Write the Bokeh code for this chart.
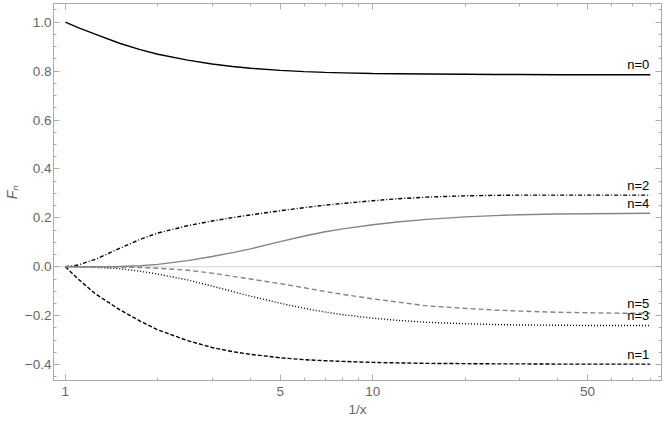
import numpy as np
from bokeh.plotting import figure
from bokeh.models import (Range1d, FixedTicker, LogAxis, LinearAxis,
                          CustomJSTickFormatter, Span)
from bokeh.embed import file_html
from bokeh.resources import INLINE
from bokeh.core.properties import value

# ---- data ----
inv_x = [1, 1.1, 1.25, 1.5, 1.75, 2, 2.5, 3, 3.5, 4, 5, 6, 7, 8, 10, 12, 15, 20, 25, 30, 40, 50, 65, 80]
F0 = [1.000, 0.978, 0.951, 0.914, 0.888, 0.869, 0.845, 0.829, 0.819, 0.812, 0.803, 0.798, 0.795, 0.793,
      0.790, 0.789, 0.788, 0.787, 0.786, 0.786, 0.785, 0.785, 0.785, 0.785]
F1 = [0.000, -0.050, -0.110, -0.175, -0.222, -0.258, -0.302, -0.330, -0.347, -0.358, -0.372, -0.380, -0.384,
      -0.387, -0.391, -0.393, -0.395, -0.396, -0.397, -0.397, -0.398, -0.398, -0.398, -0.398]
F2 = [0.000, 0.007, 0.030, 0.075, 0.112, 0.138, 0.168, 0.187, 0.201, 0.212, 0.229, 0.242, 0.252, 0.259,
      0.270, 0.278, 0.285, 0.290, 0.292, 0.293, 0.293, 0.293, 0.293, 0.293]
F3 = [0.000, 0.000, -0.002, -0.008, -0.018, -0.030, -0.054, -0.079, -0.101, -0.120, -0.149, -0.170, -0.185,
      -0.196, -0.210, -0.219, -0.227, -0.233, -0.236, -0.238, -0.239, -0.240, -0.240, -0.240]
F4 = [0.000, 0.000, 0.000, 0.001, 0.004, 0.010, 0.025, 0.042, 0.058, 0.073, 0.103, 0.126, 0.143, 0.155,
      0.172, 0.183, 0.194, 0.204, 0.209, 0.213, 0.216, 0.217, 0.218, 0.219]
F5 = [0.000, 0.000, 0.000, -0.001, -0.003, -0.006, -0.014, -0.026, -0.039, -0.050, -0.069, -0.086, -0.101,
      -0.113, -0.131, -0.144, -0.160, -0.170, -0.177, -0.181, -0.186, -0.188, -0.190, -0.190]

names = ["n=0", "n=1", "n=2", "n=3", "n=4", "n=5"]
series = [F0, F1, F2, F3, F4, F5]

x_ticks = [1, 5, 10, 50]
x_minor = [2, 3, 4, 6, 7, 8, 9, 20, 30, 40, 60, 70, 80]
y_ticks = [-0.4, -0.2, 0.0, 0.2, 0.4, 0.6, 0.8, 1.0]
y_minor = [round(v, 2) for v in np.arange(-0.45, 1.06, 0.05)]

# ---- styles ----
colors = ["black", "black", "black", "black", "#858585", "#858585"]
dashes = ["solid", "4 2", "4 2 1 2", "1 2", "solid", "5 3"]
FRAME = "#ababab"
TXT = "#666666"
FONT = "Liberation Sans"

p = figure(width=664, height=422, x_axis_type="log",
           x_range=Range1d(0.915, 87), y_range=Range1d(-0.465, 1.0765),
           output_backend="svg", toolbar_location=None,
           min_border_left=52, min_border_right=3, min_border_top=3, min_border_bottom=42)
p.background_fill_color = "white"
p.border_fill_color = "white"
p.outline_line_color = FRAME
p.grid.visible = False

zero = Span(location=0, dimension="width", line_color="#d4d4d4", line_width=1, level="underlay")
p.add_layout(zero)

for ys, c, d in zip(series, colors, dashes):
    p.line(inv_x, ys, line_color=c, line_width=1.4, line_dash=d)

p.text(x=[inv_x[-1]] * len(series), y=[s[-1] for s in series], text=names,
       text_align="right", text_baseline="alphabetic", y_offset=-10, x_offset=-1,
       text_font=value(FONT), text_font_size="13px", text_color="black")

xt = FixedTicker(ticks=x_ticks, minor_ticks=x_minor)
yt = FixedTicker(ticks=y_ticks, minor_ticks=y_minor)

def style_axis(ax):
    ax.axis_line_color = FRAME
    ax.major_tick_line_color = FRAME
    ax.minor_tick_line_color = FRAME
    ax.major_tick_in = 6
    ax.major_tick_out = 0
    ax.minor_tick_in = 3
    ax.minor_tick_out = 0
    ax.major_label_text_font = FONT
    ax.major_label_text_font_size = "13.5px"
    ax.major_label_text_color = TXT

xa = p.xaxis[0]
style_axis(xa)
xa.ticker = xt
xa.formatter = CustomJSTickFormatter(code="return tick.toFixed(0);")
xa.major_label_standoff = 6
xa.axis_label = "1/x"
xa.axis_label_text_font = FONT
xa.axis_label_text_font_size = "13.5px"
xa.axis_label_text_font_style = "normal"
xa.axis_label_text_color = TXT
xa.axis_label_standoff = 3

ya = p.yaxis[0]
style_axis(ya)
ya.ticker = yt
ya.formatter = CustomJSTickFormatter(code="var s = tick.toFixed(1); return s.replace('-', '\u2212');")
ya.major_label_standoff = 2
ya.axis_label = "F\u2099"
ya.axis_label_text_font = FONT
ya.axis_label_text_font_size = "14px"
ya.axis_label_text_font_style = "italic"
ya.axis_label_text_color = TXT
ya.axis_label_standoff = 2

def blank_axis(ax):
    style_axis(ax)
    ax.major_label_text_font_size = "0px"
    ax.major_label_standoff = 0
    ax.axis_label_standoff = 0
    ax.axis_label_text_font_size = "0px"

top = LogAxis(ticker=xt, formatter=CustomJSTickFormatter(code="return '';"))
blank_axis(top)
p.add_layout(top, "above")

right = LinearAxis(ticker=yt, formatter=CustomJSTickFormatter(code="return '';"))
blank_axis(right)
p.add_layout(right, "right")

open("out.html", "w").write(file_html(p, INLINE))
